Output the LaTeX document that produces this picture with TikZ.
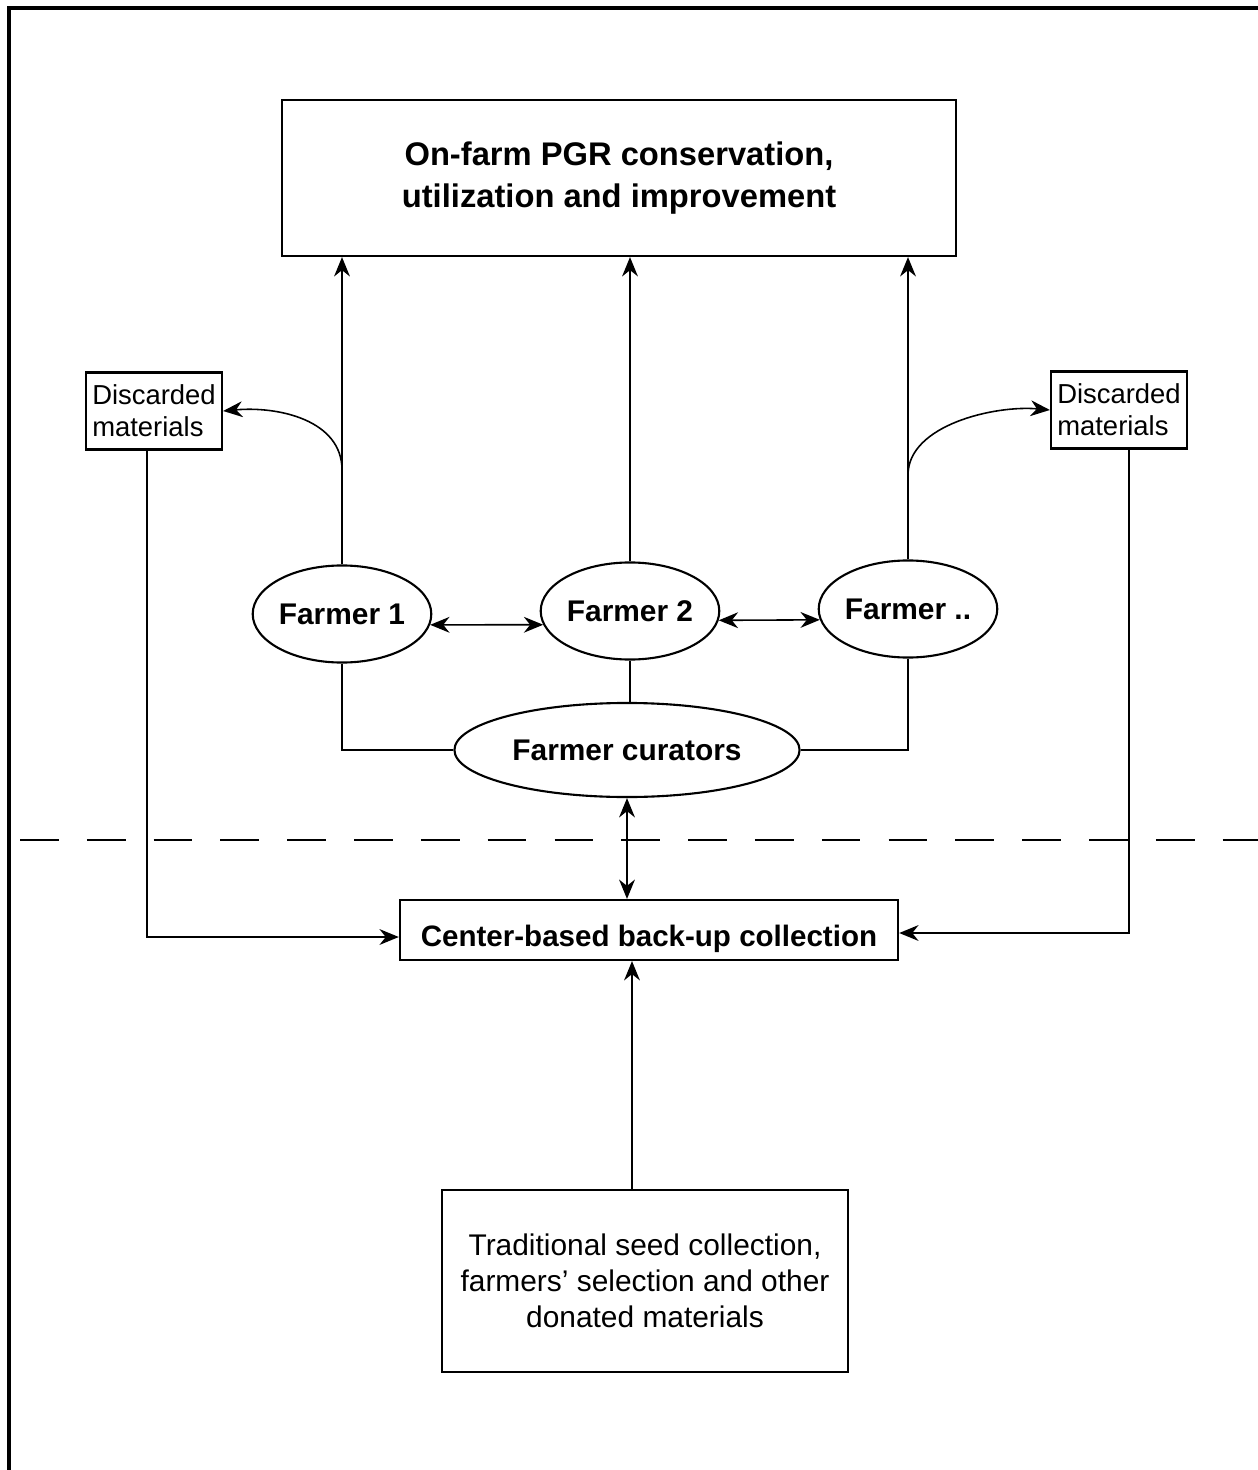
\documentclass[tikz,border=0pt]{standalone}
\usepackage{fontspec}
\setmainfont{Liberation Sans}
\usetikzlibrary{shapes,arrows.meta,positioning}

\begin{document}
\begin{tikzpicture}[
    x=0.01cm, y=-0.01cm,
    >={Stealth[length=5.5pt,width=4.5pt]},
    every node/.style={draw, line width=0.6pt, inner sep=0pt},
    headbox/.style={font=\fontsize{9.3}{11.8}\selectfont\bfseries, minimum width=6.73cm, minimum height=1.56cm, align=center},
    discardbox/.style={font=\fontsize{7.8}{9.1}\selectfont, inner xsep=1.7pt, minimum width=1.36cm, minimum height=0.77cm, align=left},
    farmer/.style={ellipse, font=\fontsize{8.5}{10}\selectfont\bfseries, minimum width=1.74cm, minimum height=0.97cm},
    backupbox/.style={font=\fontsize{8.4}{10}\selectfont\bfseries, text height=11pt, text depth=1.8pt, minimum width=4.98cm, minimum height=0.6cm},
    sourcebox/.style={font=\fontsize{8.5}{10.2}\selectfont, minimum width=4.05cm, minimum height=1.82cm, align=center},
    link/.style={line width=0.45pt}
]
\useasboundingbox (0,0) rectangle (1258,1470);
% frame
\draw[line width=0.9pt] (9,1470) -- (9,8) -- (1258,8);

\node[headbox] (top) at (619,178) {On-farm PGR conservation,\\utilization and improvement};
\node[discardbox] (dl) at (154,411) {Discarded\\materials};
\node[discardbox] (dr) at (1119,410) {Discarded\\materials};
\node[farmer] (f1) at (342,614) {Farmer 1};
\node[farmer] (f2) at (630,611) {Farmer 2};
\node[farmer] (fn) at (908,609) {Farmer ..};
\node[farmer, minimum width=3.45cm, minimum height=0.94cm] (fc) at (627,750) {Farmer curators};
\node[backupbox] (cb) at (649,930) {Center-based back-up collection};
\node[sourcebox] (src) at (645,1281) {Traditional seed collection,\\farmers’ selection and other\\donated materials};

% upward links
\draw[link,->] (f1.north) -- (f1.north |- top.south);
\draw[link,->] (f2.north) -- (f2.north |- top.south);
\draw[link,->] (fn.north) -- (fn.north |- top.south);

% discarded branches
\coordinate (b1) at (f1.north |- 0,470);
\coordinate (bn) at (fn.north |- 0,475);
\draw[link,->] (b1) .. controls +(0,-50) and +(55,-5) .. (dl.east);
\draw[link,->] (bn) .. controls +(0,-50) and +(-55,-5) .. (dr.west);

% farmer exchange
\draw[link,<->] (f1.-7) -- (f2.-171);
\draw[link,<->] (f2.-6) -- (fn.-173);

% curators
\draw[link] (f1.south) |- (fc.west);
\draw[link] (f2.south) -- (f2.south |- fc.north);
\draw[link] (fn.south) |- (fc.east);
\draw[link,<->] (fc.south) -- (fc.south |- cb.north);

% back-up collection
\draw[link,->] ([xshift=-0.07cm]dl.south) |- ([yshift=-0.07cm]cb.west);
\draw[link,->] ([xshift=0.1cm]dr.south) |- ([yshift=-0.03cm]cb.east);
\draw[link,->] ([xshift=-0.13cm]src.north) -- ([xshift=-0.13cm]src.north |- cb.south);

% boundary
\draw[line width=0.7pt, dash pattern=on 11pt off 8pt] (20,840) -- (1258,840);
\end{tikzpicture}
\end{document}
